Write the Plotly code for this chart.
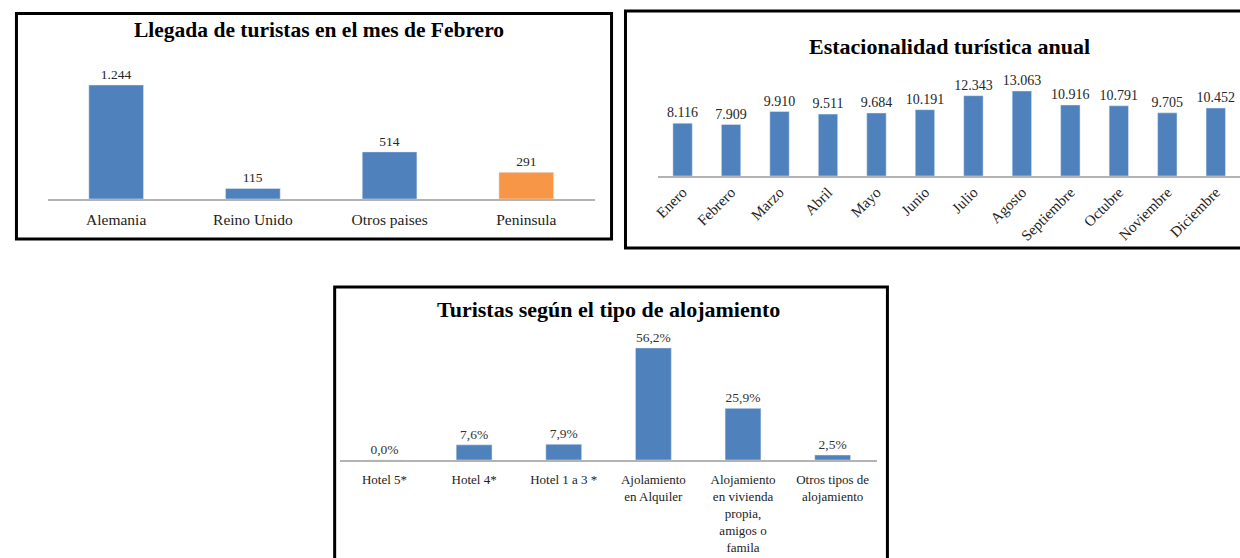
import plotly.graph_objects as go

# --- data -------------------------------------------------------------
origen = ["Alemania", "Reino Unido", "Otros paises", "Peninsula"]
llegadas_feb = [1244, 115, 514, 291]
origen_colores = ["#4f81bd", "#4f81bd", "#4f81bd", "#f79646"]

meses = ["Enero", "Febrero", "Marzo", "Abril", "Mayo", "Junio", "Julio",
         "Agosto", "Septiembre", "Octubre", "Noviembre", "Diciembre"]
turistas_mes = [8116, 7909, 9910, 9511, 9684, 10191, 12343,
                13063, 10916, 10791, 9705, 10452]

alojamiento = ["Hotel 5*", "Hotel 4*", "Hotel 1 a 3 *",
               "Ajolamiento<br>en Alquiler",
               "Alojamiento<br>en vivienda<br>propia,<br>amigos o<br>famila",
               "Otros tipos de<br>alojamiento"]
pct_alojamiento = [0.0, 7.6, 7.9, 56.2, 25.9, 2.5]

W, H = 1240, 558
FONT = "Liberation Serif, Times New Roman, serif"
BLUE = "#4f81bd"
AXIS = "#b3b3b3"


def px(x):
    return x / W


def py(y):
    return 1 - y / H


fig = go.Figure()

# panel 1 - llegada en febrero
fig.add_trace(go.Bar(
    x=origen, y=llegadas_feb, marker_color=origen_colores,
    texttemplate="%{y:,}", textposition="outside", cliponaxis=False,
    constraintext="none",
    textfont=dict(family=FONT, size=13.5, color="#262626"),
    xaxis="x", yaxis="y", showlegend=False
))

# panel 2 - estacionalidad
fig.add_trace(go.Bar(
    x=meses, y=turistas_mes, marker_color=BLUE,
    texttemplate="%{y:,}", textposition="outside", cliponaxis=False,
    constraintext="none",
    textfont=dict(family=FONT, size=14, color="#262626"),
    xaxis="x2", yaxis="y2", showlegend=False
))

# panel 3 - tipo de alojamiento
fig.add_trace(go.Bar(
    x=alojamiento, y=pct_alojamiento, marker_color=BLUE,
    texttemplate="%{y:.1f}%", textposition="outside", cliponaxis=False,
    constraintext="none",
    textfont=dict(family=FONT, size=13.5, color="#333333"),
    xaxis="x3", yaxis="y3", showlegend=False
))

xcommon = dict(type="category", showline=True, linecolor=AXIS, linewidth=1.5,
               ticks="", showgrid=False, zeroline=False, fixedrange=True)
ycommon = dict(visible=False, showgrid=False, zeroline=False, fixedrange=True)

fig.update_layout(
    width=W, height=H, autosize=False,
    margin=dict(l=0, r=0, t=0, b=0),
    paper_bgcolor="white", plot_bgcolor="white",
    separators=",.",
    bargap=0.6,
    font=dict(family=FONT, color="#222222"),
    xaxis=dict(xcommon, domain=[px(43), px(592)], anchor="y", range=[-0.5, 3.5],
               ticklabelstandoff=6,
               tickfont=dict(family=FONT, size=15.5, color="#222222")),
    yaxis=dict(ycommon, domain=[py(199), py(60)], anchor="x", range=[0, 1517]),
    xaxis2=dict(xcommon, domain=[px(656), px(1240)], anchor="y2", range=[-0.5, 11.5],
                tickangle=-45,
                tickfont=dict(family=FONT, size=15, color="#222222")),
    yaxis2=dict(ycommon, domain=[py(176), py(80)], anchor="x2", range=[0, 14754]),
    xaxis3=dict(xcommon, domain=[px(336), px(876)], anchor="y3", range=[-0.5, 5.5],
                ticklabelstandoff=7,
                tickfont=dict(family=FONT, size=13, color="#222222")),
    yaxis3=dict(ycommon, domain=[py(460), py(330)], anchor="x3", range=[0, 65.2]),
)

# panel borders (panel 2 runs off the right edge, panel 3 off the bottom)
line = dict(color="black", width=3)
fig.add_shape(type="rect", xref="paper", yref="paper",
              x0=px(11.5), x1=px(609), y0=py(13.5), y1=py(239),
              line=line, fillcolor="rgba(0,0,0,0)")
fig.add_shape(type="path", xref="paper", yref="paper", line=line,
              path=f"M {px(1300)} {py(11)} L {px(623)} {py(11)} "
                   f"L {px(623)} {py(248)} L {px(1300)} {py(248)}")
fig.add_shape(type="path", xref="paper", yref="paper", line=line,
              path=f"M {px(331)} {py(620)} L {px(331)} {py(287)} "
                   f"L {px(886)} {py(287)} L {px(886)} {py(620)}")

# titles
titles = [("Llegada de turistas en el mes de Febrero", 315, 30, 21.5),
          ("Estacionalidad turística anual", 948, 47, 22),
          ("Turistas según el tipo de alojamiento", 606, 309, 22)]
for text, tx, ty, size in titles:
    fig.add_annotation(text=text, xref="paper", yref="paper",
                       x=px(tx), y=py(ty), xanchor="center", yanchor="middle",
                       showarrow=False,
                       font=dict(family=FONT, size=size, color="black", weight="bold"))

# drop the default body margin so the figure sits at the page corner
fig.write_html("out.html", config={"displayModeBar": False},
               post_script="document.body.style.margin='0';")
